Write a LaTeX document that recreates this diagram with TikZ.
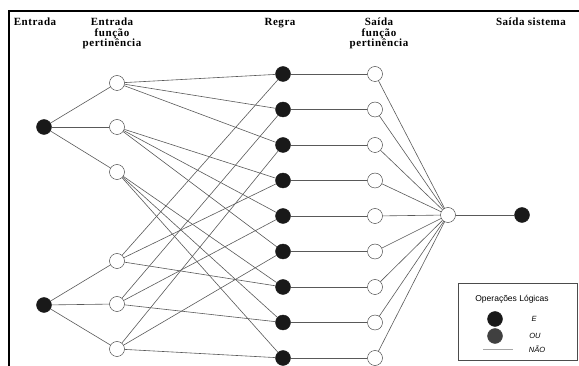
\documentclass[tikz,border=0pt]{standalone}
\usepackage{fontspec}
\setmainfont{Liberation Serif}
\setsansfont{Liberation Sans}
\usetikzlibrary{positioning}

\begin{document}
\begin{tikzpicture}[x=1pt,y=-1pt,
  nofill/.style={circle,draw=black!80,fill=white,inner sep=0pt,minimum size=15pt},
  full/.style={circle,draw=black!90,fill=black!90,inner sep=0pt,minimum size=15pt},
  conn/.style={draw=black!65,line width=0.6pt},
  head/.style={font=\fontsize{11}{10.5}\selectfont\bfseries\addfontfeature{LetterSpace=5},align=center,inner sep=0pt,anchor=north},
  leg/.style={font=\sffamily\itshape\fontsize{7.5}{9}\selectfont,inner sep=0pt}]
  \useasboundingbox (0,0) rectangle (579,366);
  % moldura
  \draw[line width=2pt] (9,366) -- (9,11) -- (579,11);
  % titulos
  \node[head] (tEnt) at (35,18) {Entrada};
  \node[head] (tEmf) at (112,18) {Entrada\\função\\pertinência};
  \node[head] (tReg) at (280,18) {Regra};
  \node[head] (tSmf) at (379,18) {Saída\\função\\pertinência};
  \node[head] (tSai) at (531,18) {Saída sistema};
  % nos
  \node[full] (in1) at (44,127) {};
  \node[full] (in2) at (44,305) {};
  \foreach \i/\y in {1/83,2/127,3/172,4/261,5/304,6/349}
    \node[nofill] (mfe\i) at (117,\y) {};
  \foreach \i in {1,...,9}{
    \node[full] (r\i) at (283,{74+35.5*(\i-1)}) {};
    \node[nofill] (mfs\i) at (375,{74+35.5*(\i-1)}) {};
  }
  \node[nofill] (out) at (448,215) {};
  \node[full] (sys) at (522,215) {};
  % ligacoes
  \foreach \a/\b in {in1/mfe1,in1/mfe2,in1/mfe3,in2/mfe4,in2/mfe5,in2/mfe6}
    \draw[conn] (\a) -- (\b);
  \foreach \m/\r in {1/1,1/2,1/3,2/4,2/5,2/6,3/7,3/8,3/9,4/1,4/4,4/7,5/2,5/5,5/8,6/3,6/6,6/9}
    \draw[conn] (mfe\m) -- (r\r);
  \foreach \i in {1,...,9}{
    \draw[conn] (r\i) -- (mfs\i);
    \draw[conn] (mfs\i) -- (out);
  }
  \draw[conn] (out) -- (sys);
  % legenda
  \draw[black!70,line width=0.6pt] (458,283) rectangle (577,360);
  \node[font=\sffamily\fontsize{8.5}{10}\selectfont,inner sep=0pt] (legT) at (512,299) {Operações Lógicas};
  \node[full] (legE) at (495,319) {};
  \node[leg] (txtE) at (534,319) {E};
  \node[circle,draw=black!75,fill=black!75,inner sep=0pt,minimum size=15pt] (legOU) at (495,336) {};
  \node[leg] (txtOU) at (535,336) {OU};
  \coordinate (naoA) at (483,349);
  \coordinate (naoB) at (513,349);
  \draw[black!35,line width=0.6pt] (naoA) -- (naoB);
  \node[leg] (txtNAO) at (537,349) {NÃO};
\end{tikzpicture}
\end{document}
